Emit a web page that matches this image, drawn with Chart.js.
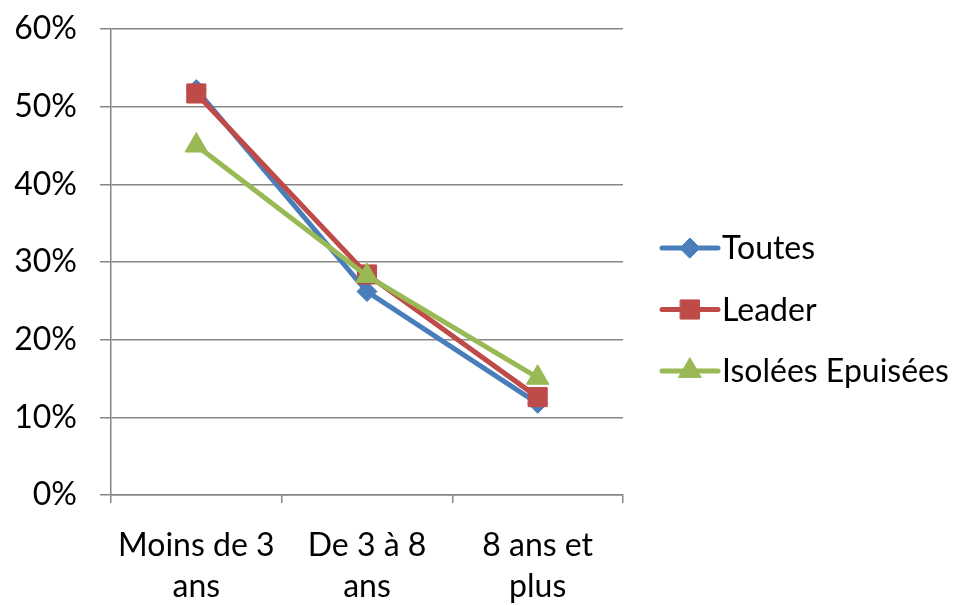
<!DOCTYPE html>
<html><head><meta charset="utf-8">
<script src="https://cdn.jsdelivr.net/npm/chart.js@4"></script>
<style>html,body{margin:0;padding:0;background:#fff}#wrap{width:971px;height:606px}</style>
</head><body><div id="wrap"><canvas id="c" width="971" height="606"></canvas></div>
<script>
const categories = [["Moins de 3","ans"],["De 3 à 8","ans"],["8 ans et","plus"]];
const toutes = [52.2, 26.2, 11.8];
const leader = [51.7, 28.4, 12.6];
const isolees = [45.0, 28.2, 15.1];
const yTicks = [0,10,20,30,40,50,60];
const seriesNames = ["Toutes","Leader","Isolées Epuisées"];
const colors = ["#4A7EBB","#BE4B48","#98B954"];
const markers = ["rectRot","rect","triangle"];
const radii = [10,13.5,13];
const FONT = "Lato, 'Open Sans', sans-serif";
const FS = 32;
const grey = "#868686";

const legendPlugin = {
  id:'customLegend',
  afterDraw(chart){
    const ctx = chart.ctx, ca = chart.chartArea;
    const x0 = ca.right + 39, x1 = ca.right + 95;
    chart.data.datasets.forEach((ds,i)=>{
      const y = 248 + i*61.5;
      ctx.save();
      ctx.strokeStyle = ds.borderColor; ctx.lineWidth = 5; ctx.lineCap='round';
      ctx.beginPath(); ctx.moveTo(x0,y); ctx.lineTo(x1,y); ctx.stroke();
      ctx.fillStyle = ds.borderColor; ctx.strokeStyle = ds.borderColor; ctx.lineWidth = 1;
      Chart.helpers.drawPoint(ctx,{pointStyle:ds.pointStyle,radius:ds.pointRadius,rotation:0,borderWidth:1},(x0+x1)/2,y);
      ctx.fill();
      ctx.fillStyle='#000'; ctx.font = FS+"px "+FONT; ctx.textAlign='left'; ctx.textBaseline='middle';
      ctx.fillText(ds.label, x1+4, y+1);
      ctx.restore();
    });
  }
};

const series = [toutes, leader, isolees];
new Chart(document.getElementById('c'), {
  type:'line',
  data:{
    labels: categories,
    datasets: series.map((d,i)=>({
      label: seriesNames[i], data: d,
      borderColor: colors[i], backgroundColor: colors[i],
      borderWidth: 5, pointStyle: markers[i], pointRadius: radii[i],
      pointBackgroundColor: colors[i], pointBorderColor: colors[i], pointBorderWidth: 1,
      tension: 0, order: 2 - i
    }))
  },
  options:{
    responsive:false, animation:false,
    layout:{padding:{top:29,right:348,left:0,bottom:0}},
    plugins:{legend:{display:false}, tooltip:{enabled:false}},
    scales:{
      x:{
        offset:true,
        grid:{display:true, drawOnChartArea:false, drawTicks:true, tickLength:8, offset:true, color:grey, lineWidth:1.5},
        border:{display:true, color:grey, width:1.5},
        ticks:{color:'#000', font:{family:FONT, size:FS, lineHeight:1.28}, padding:22, maxRotation:0, autoSkip:false},
        afterFit(s){ s.height = 111; s.paddingLeft = 0; s.paddingRight = 0; }
      },
      y:{
        min:0, max:60,
        afterBuildTicks(s){ s.ticks = yTicks.map(v=>({value:v})); },
        grid:{color:grey, lineWidth:1.5, tickLength:11},
        border:{display:true, color:grey, width:1.5},
        ticks:{color:'#000', font:{family:FONT, size:FS}, padding:23, callback:v=>v+'%'},
        afterFit(s){ s.width = 111; s.paddingTop = 0; s.paddingBottom = 0; }
      }
    }
  },
  plugins:[legendPlugin]
});
</script></body></html>
